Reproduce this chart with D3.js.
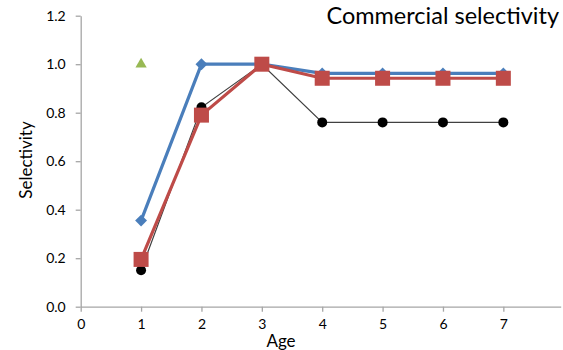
<!DOCTYPE html>
<html><head><meta charset="utf-8">
<script src="https://cdn.jsdelivr.net/npm/d3@7"></script>
<style>body{margin:0;background:#fff}svg{display:block}text{font-family:Lato,"Open Sans",sans-serif;fill:#000}</style>
</head><body><svg id="c" width="563" height="350"></svg>
<script>
const ages = [1,2,3,4,5,6,7];
const seriesBlue = [0.355,1.0,1.0,0.962,0.962,0.962,0.962];
const seriesRed = [0.195,0.79,1.0,0.942,0.942,0.942,0.942];
const seriesBlack = [0.15,0.822,1.0,0.76,0.76,0.76,0.76];
const greenAges = [1];
const seriesGreen = [1.0];
const xTicks = [0,1,2,3,4,5,6,7];
const yTicks = [0,0.2,0.4,0.6,0.8,1.0,1.2];

const svg = d3.select("#c");
const x = d3.scaleLinear().domain([0,7.95]).range([80.7,560.7]);
const y = d3.scaleLinear().domain([0,1.2]).range([306.7,15.7]);
const axisCol = "#a6a6a6";

// axes
const gx = svg.append("g").attr("transform","translate(0,306.7)")
  .call(d3.axisBottom(x).tickValues(xTicks).tickSize(5).tickSizeOuter(0).tickFormat(d3.format("d")));
gx.select(".domain").attr("stroke",axisCol).attr("stroke-width",1.3);
gx.selectAll(".tick line").attr("stroke",axisCol).attr("stroke-width",1.3);
gx.selectAll(".tick text").attr("font-size",14).attr("dy","1.05em").style("font-family","Lato,'Open Sans',sans-serif");

const gy = svg.append("g").attr("transform","translate(80.7,0)")
  .call(d3.axisLeft(y).tickValues(yTicks).tickSize(5).tickSizeOuter(0).tickFormat(d3.format(".1f")));
gy.select(".domain").attr("stroke",axisCol).attr("stroke-width",1.3);
gy.selectAll(".tick line").attr("stroke",axisCol).attr("stroke-width",1.3);
gy.selectAll(".tick text").attr("font-size",14).attr("x",-15).style("font-family","Lato,'Open Sans',sans-serif");

// labels
svg.append("text").attr("x",281).attr("y",347).attr("text-anchor","middle").attr("font-size",17).text("Age");
svg.append("text").attr("transform","translate(32,160) rotate(-90)").attr("text-anchor","middle").attr("font-size",17).text("Selectivity");
svg.append("text").attr("x",559).attr("y",24).attr("text-anchor","end").attr("font-size",23.5).text("Commercial selectivity");

const line = d3.line().x(d=>x(d[0])).y(d=>y(d[1]));
const zip = (a,b)=>a.map((v,i)=>[v,b[i]]);

// black
const blk = zip(ages,seriesBlack);
svg.append("path").datum(blk).attr("d",line).attr("fill","none").attr("stroke","#404040").attr("stroke-width",1.2);
svg.selectAll(".cb").data(blk).enter().append("circle").attr("cx",d=>x(d[0])).attr("cy",d=>y(d[1])).attr("r",5).attr("fill","#000");

// blue
const blu = zip(ages,seriesBlue);
svg.append("path").datum(blu).attr("d",line).attr("fill","none").attr("stroke","#4a7ebb").attr("stroke-width",3.2);
svg.selectAll(".db").data(blu).enter().append("path")
  .attr("d",d3.symbol().type(d3.symbolDiamond2).size(90))
  .attr("transform",d=>`translate(${x(d[0])},${y(d[1])})`).attr("fill","#4a7ebb");

// red
const red = zip(ages,seriesRed);
svg.append("path").datum(red).attr("d",line).attr("fill","none").attr("stroke","#be4b48").attr("stroke-width",3.2);
svg.selectAll(".sr").data(red).enter().append("rect")
  .attr("x",d=>x(d[0])-7.5).attr("y",d=>y(d[1])-7.5).attr("width",15).attr("height",15).attr("fill","#be4b48");

// green
const grn = zip(greenAges,seriesGreen);
svg.selectAll(".tg").data(grn).enter().append("path")
  .attr("d",d3.symbol().type(d3.symbolTriangle).size(55))
  .attr("transform",d=>`translate(${x(d[0])},${y(d[1])})`).attr("fill","#98b954");
</script></body></html>
